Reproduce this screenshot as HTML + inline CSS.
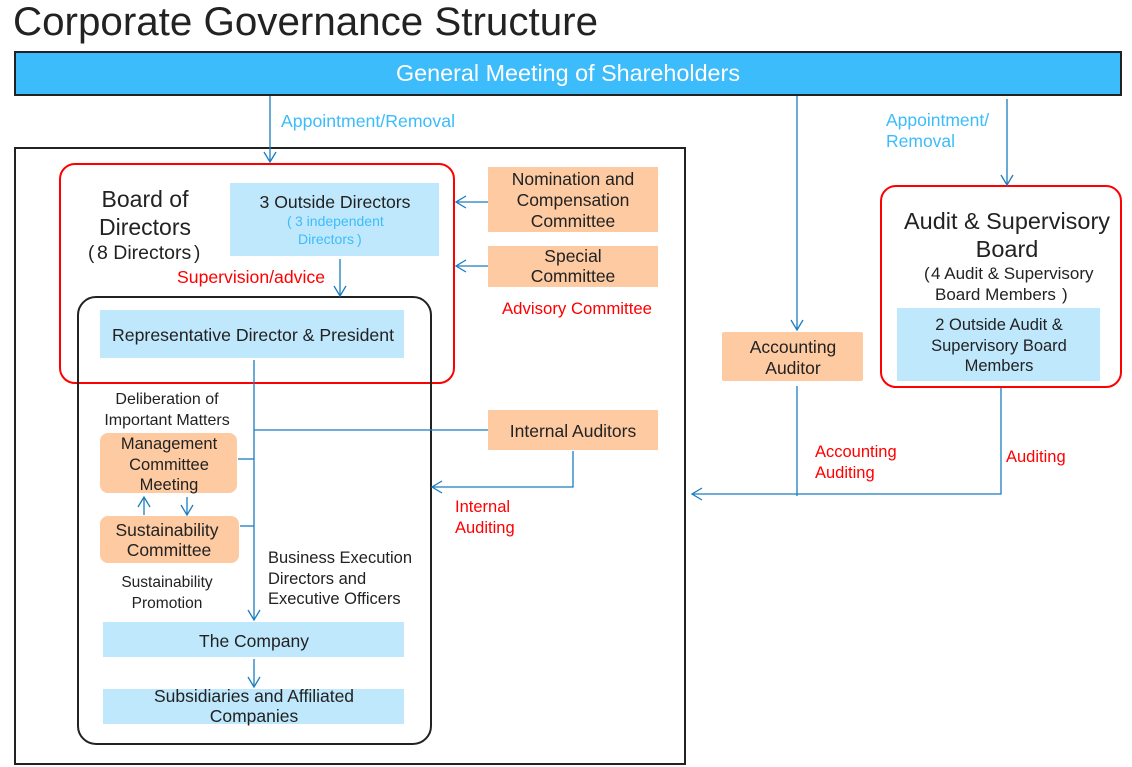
<!DOCTYPE html>
<html><head><meta charset="utf-8"><style>
html,body{margin:0;padding:0;background:#fff;}
svg{display:block;}
text{font-family:"Liberation Sans","Noto Sans CJK JP",Arial,sans-serif;fill:#222;}
</style></head><body>
<svg width="1132" height="767" viewBox="0 0 1132 767" xmlns="http://www.w3.org/2000/svg">
<!-- Title -->
<text x="13" y="35" font-size="40" textLength="585" lengthAdjust="spacingAndGlyphs">Corporate Governance Structure</text>

<!-- General meeting bar -->
<rect x="15" y="52" width="1106" height="43" fill="#3dbcfb" stroke="#222" stroke-width="2"/>
<text x="568" y="81" font-size="23" text-anchor="middle" style="fill:#fff" textLength="344" lengthAdjust="spacingAndGlyphs">General Meeting of Shareholders</text>

<!-- Outer black box -->
<rect x="15" y="148" width="670" height="616" fill="none" stroke="#222" stroke-width="2"/>

<!-- Board red box -->
<rect x="60" y="164" width="394" height="219" rx="15" fill="none" stroke="#f00" stroke-width="2"/>

<!-- inner rounded box -->
<rect x="78" y="297" width="353" height="447" rx="18" fill="none" stroke="#222" stroke-width="2"/>

<!-- Board text -->
<text x="145" y="207" font-size="23" text-anchor="middle">Board of</text>
<text x="145" y="235" font-size="23" text-anchor="middle">Directors</text>
<text x="88" y="259" font-size="19">(</text>
<text x="97" y="259" font-size="19.5">8 Directors</text>
<text x="194" y="259" font-size="19">)</text>

<!-- Outside Directors -->
<rect x="230" y="183" width="209" height="73" fill="#bfe8fc"/>
<text x="335" y="208" font-size="17.5" text-anchor="middle" textLength="151" lengthAdjust="spacingAndGlyphs">3 Outside Directors</text>
<text x="287" y="226" font-size="14" style="fill:#3dbcfb">(</text>
<text x="295" y="226" font-size="14" style="fill:#3dbcfb">3  independent</text>
<text x="298" y="244" font-size="14" style="fill:#3dbcfb">Directors</text>
<text x="357" y="244" font-size="14" style="fill:#3dbcfb">)</text>

<text x="177" y="283" font-size="17.5" style="fill:#f00" textLength="148" lengthAdjust="spacingAndGlyphs">Supervision/advice</text>

<!-- Representative -->
<rect x="100" y="310" width="304" height="48" fill="#bfe8fc"/>
<text x="253" y="341" font-size="17.5" text-anchor="middle" textLength="282" lengthAdjust="spacingAndGlyphs">Representative Director &amp; President</text>

<!-- Right committees -->
<rect x="488" y="167" width="170" height="65" fill="#fdcaa2"/>
<text x="573" y="185" font-size="17.5" text-anchor="middle">Nomination and</text>
<text x="573" y="206" font-size="17.5" text-anchor="middle">Compensation</text>
<text x="573" y="227" font-size="17.5" text-anchor="middle">Committee</text>

<rect x="488" y="246" width="170" height="41" fill="#fdcaa2"/>
<text x="573" y="262" font-size="17.5" text-anchor="middle">Special</text>
<text x="573" y="282" font-size="17.5" text-anchor="middle">Committee</text>

<text x="502" y="314" font-size="16.8" style="fill:#f00" textLength="150" lengthAdjust="spacingAndGlyphs">Advisory Committee</text>

<!-- Deliberation -->
<text x="167" y="404" font-size="16" text-anchor="middle">Deliberation of</text>
<text x="167" y="425" font-size="16" text-anchor="middle">Important Matters</text>

<rect x="100" y="433" width="137" height="60" rx="8" fill="#fdcaa2"/>
<text x="169" y="449" font-size="16.5" text-anchor="middle">Management</text>
<text x="169" y="470" font-size="16.5" text-anchor="middle">Committee</text>
<text x="169" y="490" font-size="16.5" text-anchor="middle">Meeting</text>

<rect x="100" y="516" width="139" height="47" rx="8" fill="#fdcaa2"/>
<text x="167" y="536" font-size="17.5" text-anchor="middle">Sustainability</text>
<text x="169" y="556" font-size="17.5" text-anchor="middle">Committee</text>

<text x="167" y="587" font-size="15.5" text-anchor="middle">Sustainability</text>
<text x="167" y="608" font-size="15.5" text-anchor="middle">Promotion</text>

<text x="268" y="563" font-size="16.5">Business Execution</text>
<text x="268" y="584" font-size="16.5">Directors and</text>
<text x="268" y="604" font-size="16.5">Executive Officers</text>

<rect x="103" y="622" width="301" height="35" fill="#bfe8fc"/>
<text x="254" y="647" font-size="17.5" text-anchor="middle">The Company</text>

<rect x="103" y="689" width="301" height="35" fill="#bfe8fc"/>
<text x="254" y="702" font-size="17.5" text-anchor="middle">Subsidiaries and Affiliated</text>
<text x="254" y="722" font-size="17.5" text-anchor="middle">Companies</text>

<!-- Internal auditors -->
<rect x="488" y="410" width="170" height="40" fill="#fdcaa2"/>
<text x="573" y="437" font-size="17.5" text-anchor="middle">Internal Auditors</text>
<text x="455" y="512" font-size="16.5" style="fill:#f00">Internal</text>
<text x="455" y="533" font-size="16.5" style="fill:#f00">Auditing</text>

<!-- Right side -->
<text x="281" y="127" font-size="17.5" style="fill:#3dbcfb" textLength="174" lengthAdjust="spacingAndGlyphs">Appointment/Removal</text>
<text x="886" y="126" font-size="17.5" style="fill:#3dbcfb">Appointment/</text>
<text x="886" y="147" font-size="17.5" style="fill:#3dbcfb">Removal</text>

<rect x="722" y="332" width="141" height="49" rx="2" fill="#fdcaa2"/>
<text x="793" y="353" font-size="17.5" text-anchor="middle">Accounting</text>
<text x="793" y="374" font-size="17.5" text-anchor="middle">Auditor</text>

<rect x="881" y="186" width="240" height="201" rx="15" fill="none" stroke="#f00" stroke-width="2"/>
<text x="1007" y="229" font-size="23.5" text-anchor="middle" textLength="206" lengthAdjust="spacingAndGlyphs">Audit &amp; Supervisory</text>
<text x="1007" y="257" font-size="23.5" text-anchor="middle">Board</text>
<text x="924" y="279" font-size="17">(</text>
<text x="931" y="279" font-size="17">4 Audit &amp; Supervisory</text>
<text x="935" y="300" font-size="17">Board Members</text>
<text x="1062" y="300" font-size="17">)</text>

<rect x="897" y="308" width="203" height="73" fill="#bfe8fc"/>
<text x="999" y="330" font-size="16.5" text-anchor="middle">2 Outside Audit &amp;</text>
<text x="999" y="351" font-size="16.5" text-anchor="middle">Supervisory Board</text>
<text x="999" y="371" font-size="16.5" text-anchor="middle">Members</text>

<text x="815" y="457" font-size="16.5" style="fill:#f00">Accounting</text>
<text x="815" y="478" font-size="16.5" style="fill:#f00">Auditing</text>
<text x="1006" y="462" font-size="16.5" style="fill:#f00">Auditing</text>

<!-- Connectors -->
<g stroke="#1a7dc0" stroke-width="1.3" fill="none">
  <path d="M270 96 V162"/><path d="M264 152 L270 162 L276 152"/>
  <path d="M340 259 V296"/><path d="M334 286 L340 296 L346 286"/>
  <path d="M488 202 H456"/><path d="M466 196 L456 202 L466 208"/>
  <path d="M488 266 H456"/><path d="M466 260 L456 266 L466 272"/>
  <path d="M254 360 V620"/><path d="M248 610 L254 620 L260 610"/>
  <path d="M254 430 H488"/>
  <path d="M238 459 H254"/>
  <path d="M240 526 H254"/>
  <path d="M144 515 V497"/><path d="M138 507 L144 497 L150 507"/>
  <path d="M187 497 V515"/><path d="M181 505 L187 515 L193 505"/>
  <path d="M573 451 V487 H432"/><path d="M442 481 L432 487 L442 493"/>
  <path d="M254 659 V687"/><path d="M248 677 L254 687 L260 677"/>
  <path d="M797 96 V330"/><path d="M791 320 L797 330 L803 320"/>
  <path d="M797 386 V496"/>
  <path d="M1007 99 V185"/><path d="M1001 175 L1007 185 L1013 175"/>
  <path d="M1001 388 V494 H692"/><path d="M702 488 L692 494 L702 500"/>
</g>
</svg>
</body></html>
